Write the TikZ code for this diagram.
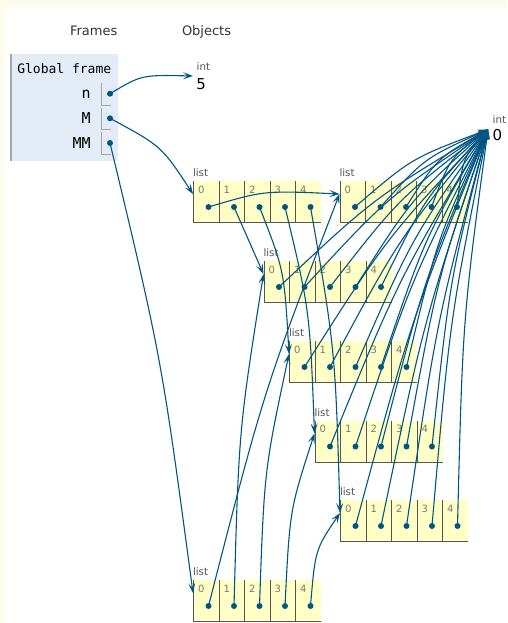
\documentclass[tikz,border=0pt]{standalone}
\usepackage{fontspec}
\setmainfont{DejaVu Sans}
\newfontfamily\monof{DejaVu Sans Mono}
\usetikzlibrary{arrows.meta,calc}
\definecolor{ptrc}{HTML}{005583}
\definecolor{listy}{HTML}{FFFFC6}
\definecolor{framec}{HTML}{E2EBF6}
\definecolor{creamc}{RGB}{253,252,236}
\definecolor{cellln}{HTML}{555555}
\definecolor{typec}{HTML}{555555}
\definecolor{idxc}{HTML}{777777}
\definecolor{headc}{HTML}{333333}
\tikzset{
  txt/.style={inner sep=0pt, outer sep=0pt},
  head/.style={txt, text=headc, font=\fontsize{13}{15}\selectfont},
  monotxt/.style={txt, text=black, font=\monof\fontsize{13}{15}\selectfont},
  vartxt/.style={txt, text=black, font=\monof\fontsize{15}{17}\selectfont},
  typelab/.style={txt, text=typec, font=\fontsize{10.3}{12}\selectfont},
  idxlab/.style={txt, text=idxc, font=\fontsize{10}{12}\selectfont},
  primval/.style={txt, text=black, font=\fontsize{15}{17}\selectfont},
  cellline/.style={draw=cellln, line width=1pt},
  varcell/.style={draw=black!35, line width=1pt},
  ptr/.style={draw=ptrc, line width=1.1pt, -{Stealth[length=10pt,width=7pt,inset=4.5pt]}},
  dotc/.style={fill=ptrc}
}
\newcommand\heaplist[3]{%
  \fill[listy] (#2,#3) rectangle ++(127.5,41.5);
  \node[typelab, anchor=base west] (#1-lab) at (#2-0.5,#3-4.3) {list};
  \foreach \i in {0,...,4} {
    \draw[cellline] (#2+25.5*\i,#3) -- ++(0,41.5);
    \node[idxlab, anchor=base west] (#1-h\i) at (#2+25.5*\i+4.5,#3+12.3) {\i};
    \coordinate (#1-\i) at (#2+15+25.5*\i,#3+26);
  }
  \draw[cellline] (#2-0.5,#3+41.5) -- ++(128,0);
  \coordinate (#1-t) at (#2-0.5,#3+13);
}
\newcommand\ptrU[2]{\draw[ptr] (#1) .. controls ($(#1)!0.5!(#2)+(-10,-10)$) .. (#2);}
\newcommand\ptrD[2]{\draw[ptr] (#1) .. controls ($(#1)!0.5!(#2)+(10,-10)$) .. (#2);}
\newcommand\ptrS[2]{\draw[ptr] (#1) -- (#2);}
\newcommand\dotat[1]{\fill[dotc] (#1) circle[radius=3pt];}
\begin{document}
\begin{tikzpicture}[x=1pt,y=-1pt]
\useasboundingbox (0,0) rectangle (507,623);
\fill[creamc] (0,0) rectangle (507,623);
\fill[white] (5,7) rectangle (507,623);
% headers
\node[head, anchor=base west] (hframes) at (70,36) {Frames};
\node[head, anchor=base west] (hobjects) at (182,36) {Objects};
% global frame
\fill[framec] (10,54.5) rectangle (118.3,160.7);
\draw[draw=black!35, line width=1.5pt] (10.75,54.5) -- (10.75,160.7);
\node[monotxt, anchor=base west] (gf) at (17.3,73.3) {Global frame};
\node[vartxt, anchor=base east] (varn) at (90.7,99) {n};
\node[vartxt, anchor=base east] (varM) at (90.7,123.5) {M};
\node[vartxt, anchor=base east] (varMM) at (90.7,148.5) {MM};
\draw[varcell] (101.7,83.3) -- (101.7,106) -- (110.7,106);
\draw[varcell] (101.7,107.6) -- (101.7,129.3) -- (110.7,129.3);
\draw[varcell] (101.7,132.3) -- (101.7,154) -- (110.7,154);
\coordinate (vn) at (110,93.7);
\coordinate (vM) at (110,118.3);
\coordinate (vMM) at (110,143);
% primitives
\node[typelab, anchor=base west] (int5lab) at (196.7,70.7) {int};
\node[primval, anchor=base west] (int5) at (196.3,89.3) {5};
\coordinate (int5-t) at (193,76);
\node[typelab, anchor=base west] (int0lab) at (492.7,124) {int};
\node[primval, anchor=base west] (int0) at (492.6,140.7) {0};
\coordinate (int0-t) at (488,129.5);
% lists
\heaplist{LM}{193.5}{181}
\heaplist{LA}{340}{181}
\heaplist{LB}{264}{261}
\heaplist{LC}{289.5}{341}
\heaplist{LD}{315}{420.5}
\heaplist{LE}{340.5}{500}
\heaplist{LMM}{193.5}{580}
% stack pointers
\ptrU{vn}{int5-t}
\ptrD{vM}{LM-t}
\ptrD{vMM}{LMM-t}
% M list pointers
\ptrU{LM-0}{LA-t}
\ptrS{LM-1}{LB-t}
\ptrD{LM-2}{LC-t}
\ptrD{LM-3}{LD-t}
\ptrD{LM-4}{LE-t}
% MM list pointers
\ptrU{LMM-0}{LA-t}
\ptrU{LMM-1}{LB-t}
\ptrU{LMM-2}{LC-t}
\ptrU{LMM-3}{LD-t}
\ptrU{LMM-4}{LE-t}
% inner lists to int 0
\foreach \L in {LA,LB,LC,LD,LE} {
  \foreach \i in {0,...,4} {
    \ptrU{\L-\i}{int0-t}
  }
}
% dots
\dotat{vn}\dotat{vM}\dotat{vMM}
\foreach \L in {LM,LA,LB,LC,LD,LE,LMM} {
  \foreach \i in {0,...,4} {
    \dotat{\L-\i}
  }
}
\end{tikzpicture}
\end{document}
